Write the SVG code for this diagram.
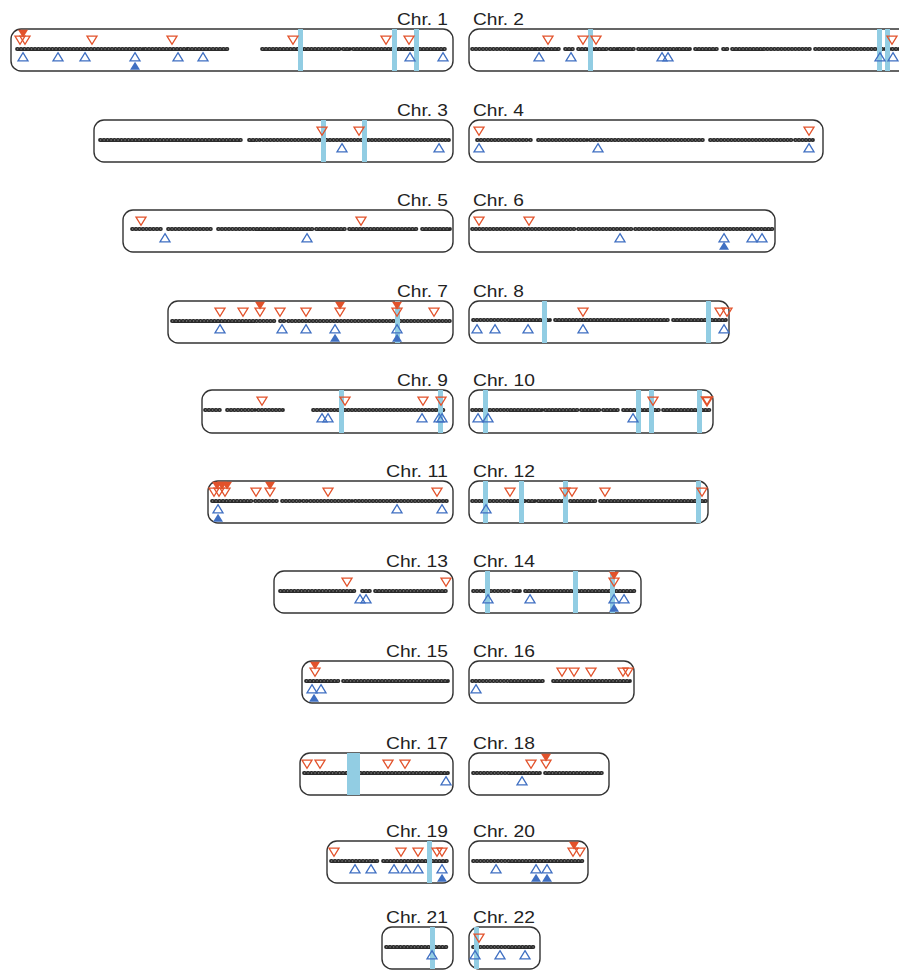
<svg xmlns="http://www.w3.org/2000/svg" xmlns:xlink="http://www.w3.org/1999/xlink" width="899" height="974" viewBox="0 0 899 974">
<style>
.box{fill:#fff;stroke:#333;stroke-width:1.4}
.band{fill:#92cde3}
.chr{stroke:#2b2b2b;stroke-width:3.8;stroke-dasharray:0.9 2.6;stroke-linecap:round;fill:none}
.chr2{stroke:#9a9a9a;stroke-width:1;stroke-dasharray:1.2 2.3;fill:none}
.ro{fill:none;stroke:#e2522b;stroke-width:1.3}
.rf{fill:#e2522b;stroke:none}
.bo{fill:none;stroke:#3f6fc2;stroke-width:1.3}
.bf{fill:#3f6fc2;stroke:none}
.lbl{font-family:"Liberation Sans",Arial,sans-serif;font-size:16.5px;fill:#222}
.l{text-anchor:end}
</style>
<defs>
<path id="dn" d="M-5 -3.8H5L0 4.3Z"/>
<path id="up" d="M0 -4.3L5 3.8H-5Z"/>
</defs>
<rect width="899" height="974" fill="#fff"/>

<g id="chr1">
<rect class="box" x="11" y="29" width="442" height="42" rx="10"/>
<path class="chr" d="M17 49H113M115 49H143M145 49H187M188 49H228M262 49H340M343 49H350M353 49H447"/>
<path class="chr2" d="M17 49H113M115 49H143M145 49H187M188 49H228M262 49H340M343 49H350M353 49H447"/>
<rect class="band" x="298" y="29" width="5" height="42"/><rect class="band" x="392" y="29" width="5" height="42"/><rect class="band" x="414" y="29" width="5" height="42"/>
<use href="#dn" x="23" y="33.5" class="rf"/><use href="#dn" x="20" y="40" class="ro"/><use href="#dn" x="25" y="40" class="ro"/>
<use href="#dn" x="92" y="40" class="ro"/><use href="#dn" x="172" y="40" class="ro"/><use href="#dn" x="293" y="40" class="ro"/><use href="#dn" x="386" y="40" class="ro"/><use href="#dn" x="409" y="40" class="ro"/>
<use href="#up" x="23" y="57" class="bo"/><use href="#up" x="58" y="57" class="bo"/><use href="#up" x="85" y="57" class="bo"/><use href="#up" x="135" y="57" class="bo"/><use href="#up" x="178" y="57" class="bo"/><use href="#up" x="203" y="57" class="bo"/><use href="#up" x="410" y="57" class="bo"/><use href="#up" x="443" y="57" class="bo"/>
<use href="#up" x="135" y="66" class="bf"/>
<text class="lbl l" x="448" y="25" textLength="51" lengthAdjust="spacingAndGlyphs">Chr. 1</text>
</g>

<g id="chr2">
<rect class="box" x="469" y="29" width="445" height="42" rx="10"/>
<path class="chr" d="M472 49H535M537 49H560M565 49H575M578 49H608M610 49H617M619 49H635M638 49H677M679 49H690M695 49H718M723 49H728M732 49H812M815 49H905"/>
<path class="chr2" d="M472 49H535M537 49H560M565 49H575M578 49H608M610 49H617M619 49H635M638 49H677M679 49H690M695 49H718M723 49H728M732 49H812M815 49H905"/>
<rect class="band" x="588" y="29" width="5" height="42"/><rect class="band" x="877" y="29" width="5" height="42"/><rect class="band" x="885" y="29" width="5" height="42"/>
<use href="#dn" x="548" y="40" class="ro"/><use href="#dn" x="583" y="40" class="ro"/><use href="#dn" x="596" y="40" class="ro"/><use href="#dn" x="892" y="40" class="ro"/>
<use href="#up" x="539" y="57" class="bo"/><use href="#up" x="571" y="57" class="bo"/><use href="#up" x="662" y="57" class="bo"/><use href="#up" x="668" y="57" class="bo"/><use href="#up" x="880" y="57" class="bo"/><use href="#up" x="893" y="57" class="bo"/>
<text class="lbl" x="473" y="25" textLength="51" lengthAdjust="spacingAndGlyphs">Chr. 2</text>
</g>

<g id="chr3">
<rect class="box" x="94" y="120" width="359" height="42" rx="10"/>
<path class="chr" d="M100 140H243M249 140H260M263 140H449"/>
<path class="chr2" d="M100 140H243M249 140H260M263 140H449"/>
<rect class="band" x="321" y="120" width="5" height="42"/><rect class="band" x="362" y="120" width="5" height="42"/>
<use href="#dn" x="322" y="131" class="ro"/><use href="#dn" x="359" y="131" class="ro"/>
<use href="#up" x="342" y="148" class="bo"/><use href="#up" x="439" y="148" class="bo"/>
<text class="lbl l" x="448" y="116" textLength="51" lengthAdjust="spacingAndGlyphs">Chr. 3</text>
</g>

<g id="chr4">
<rect class="box" x="469" y="120" width="354" height="42" rx="10"/>
<path class="chr" d="M477 140H527M530 140H531M538 140H587M590 140H705M710 140H793M795 140H813"/>
<path class="chr2" d="M477 140H527M530 140H531M538 140H587M590 140H705M710 140H793M795 140H813"/>
<use href="#dn" x="479" y="131" class="ro"/><use href="#dn" x="809" y="131" class="ro"/>
<use href="#up" x="479" y="148" class="bo"/><use href="#up" x="598" y="148" class="bo"/><use href="#up" x="809" y="148" class="bo"/>
<text class="lbl" x="473" y="116" textLength="51" lengthAdjust="spacingAndGlyphs">Chr. 4</text>
</g>

<g id="chr5">
<rect class="box" x="123" y="210" width="330" height="42" rx="10"/>
<path class="chr" d="M132 229H163M168 229H212M218 229H278M280 229H313M316 229H347M349 229H417M422 229H450"/>
<path class="chr2" d="M132 229H163M168 229H212M218 229H278M280 229H313M316 229H347M349 229H417M422 229H450"/>
<use href="#dn" x="141" y="221" class="ro"/><use href="#dn" x="361" y="221" class="ro"/>
<use href="#up" x="165" y="238" class="bo"/><use href="#up" x="307" y="238" class="bo"/>
<text class="lbl l" x="448" y="206" textLength="51" lengthAdjust="spacingAndGlyphs">Chr. 5</text>
</g>

<g id="chr6">
<rect class="box" x="469" y="210" width="306" height="42" rx="10"/>
<path class="chr" d="M472 229H575M578 229H590M592 229H633M635 229H650M653 229H717M719 229H773"/>
<path class="chr2" d="M472 229H575M578 229H590M592 229H633M635 229H650M653 229H717M719 229H773"/>
<use href="#dn" x="479" y="221" class="ro"/><use href="#dn" x="529" y="221" class="ro"/>
<use href="#up" x="620" y="238" class="bo"/><use href="#up" x="724" y="238" class="bo"/><use href="#up" x="752" y="238" class="bo"/><use href="#up" x="762" y="238" class="bo"/>
<use href="#up" x="724" y="246" class="bf"/>
<text class="lbl" x="473" y="206" textLength="51" lengthAdjust="spacingAndGlyphs">Chr. 6</text>
</g>

<g id="chr7">
<rect class="box" x="168" y="301" width="285" height="42" rx="10"/>
<path class="chr" d="M172 321H240M242 321H275M280 321H285M288 321H450"/>
<path class="chr2" d="M172 321H240M242 321H275M280 321H285M288 321H450"/>
<rect class="band" x="395" y="301" width="5" height="42"/>
<use href="#dn" x="260" y="305.5" class="rf"/><use href="#dn" x="340" y="305.5" class="rf"/><use href="#dn" x="397" y="305.5" class="rf"/>
<use href="#dn" x="220" y="312" class="ro"/><use href="#dn" x="243" y="312" class="ro"/><use href="#dn" x="260" y="312" class="ro"/><use href="#dn" x="280" y="312" class="ro"/><use href="#dn" x="306" y="312" class="ro"/><use href="#dn" x="340" y="312" class="ro"/><use href="#dn" x="397" y="312" class="ro"/><use href="#dn" x="434" y="312" class="ro"/>
<use href="#up" x="220" y="329" class="bo"/><use href="#up" x="282" y="329" class="bo"/><use href="#up" x="306" y="329" class="bo"/><use href="#up" x="335" y="329" class="bo"/><use href="#up" x="397" y="329" class="bo"/>
<use href="#up" x="335" y="338" class="bf"/><use href="#up" x="397" y="338" class="bf"/>
<text class="lbl l" x="448" y="297" textLength="51" lengthAdjust="spacingAndGlyphs">Chr. 7</text>
</g>

<g id="chr8">
<rect class="box" x="469" y="301" width="260" height="42" rx="10"/>
<path class="chr" d="M473 320H550M555 320H670M673 320H726"/>
<path class="chr2" d="M473 320H550M555 320H670M673 320H726"/>
<rect class="band" x="542" y="301" width="5" height="42"/><rect class="band" x="706" y="301" width="5" height="42"/>
<use href="#dn" x="583" y="312" class="ro"/><use href="#dn" x="720" y="312" class="ro"/><use href="#dn" x="727" y="312" class="ro"/>
<use href="#up" x="477" y="329" class="bo"/><use href="#up" x="495" y="329" class="bo"/><use href="#up" x="528" y="329" class="bo"/><use href="#up" x="583" y="329" class="bo"/><use href="#up" x="724" y="329" class="bo"/>
<text class="lbl" x="473" y="297" textLength="51" lengthAdjust="spacingAndGlyphs">Chr. 8</text>
</g>

<g id="chr9">
<rect class="box" x="202" y="390" width="251" height="43" rx="10"/>
<path class="chr" d="M205 410H222M227 410H255M258 410H283M313 410H445"/>
<path class="chr2" d="M205 410H222M227 410H255M258 410H283M313 410H445"/>
<rect class="band" x="339" y="390" width="5" height="43"/><rect class="band" x="438" y="390" width="5" height="43"/>
<use href="#dn" x="262" y="401" class="ro"/><use href="#dn" x="345" y="401" class="ro"/><use href="#dn" x="423" y="401" class="ro"/><use href="#dn" x="441" y="401" class="ro"/>
<use href="#up" x="322" y="418" class="bo"/><use href="#up" x="328" y="418" class="bo"/><use href="#up" x="422" y="418" class="bo"/><use href="#up" x="439" y="418" class="bo"/><use href="#up" x="442" y="418" class="bo"/>
<text class="lbl l" x="448" y="386" textLength="51" lengthAdjust="spacingAndGlyphs">Chr. 9</text>
</g>

<g id="chr10">
<rect class="box" x="469" y="390" width="244" height="43" rx="10"/>
<path class="chr" d="M472 410H542M545 410H578M581 410H600M603 410H620M623 410H660M663 410H710"/>
<path class="chr2" d="M472 410H542M545 410H578M581 410H600M603 410H620M623 410H660M663 410H710"/>
<rect class="band" x="483" y="390" width="5" height="43"/><rect class="band" x="636" y="390" width="5" height="43"/><rect class="band" x="649" y="390" width="5" height="43"/><rect class="band" x="697" y="390" width="5" height="43"/>
<use href="#dn" x="653" y="401" class="ro"/><use href="#dn" x="707" y="401" class="ro" style="stroke-width:2"/>
<use href="#up" x="478" y="418" class="bo"/><use href="#up" x="488" y="418" class="bo"/><use href="#up" x="633" y="418" class="bo"/>
<text class="lbl" x="473" y="386" textLength="62" lengthAdjust="spacingAndGlyphs">Chr. 10</text>
</g>

<g id="chr11">
<rect class="box" x="208" y="481" width="245" height="42" rx="10"/>
<path class="chr" d="M212 501H252M255 501H278M282 501H300M303 501H307M310 501H352M355 501H447"/>
<path class="chr2" d="M212 501H252M255 501H278M282 501H300M303 501H307M310 501H352M355 501H447"/>
<use href="#dn" x="217" y="485.5" class="rf"/><use href="#dn" x="222" y="485.5" class="rf"/><use href="#dn" x="227" y="485.5" class="rf"/><use href="#dn" x="270" y="485.5" class="rf"/>
<use href="#dn" x="214" y="492" class="ro"/><use href="#dn" x="219" y="492" class="ro"/><use href="#dn" x="225" y="492" class="ro"/><use href="#dn" x="256" y="492" class="ro"/><use href="#dn" x="270" y="492" class="ro"/><use href="#dn" x="328" y="492" class="ro"/><use href="#dn" x="437" y="492" class="ro"/>
<use href="#up" x="218" y="509" class="bo"/><use href="#up" x="397" y="509" class="bo"/><use href="#up" x="442" y="509" class="bo"/>
<use href="#up" x="218" y="518" class="bf"/>
<text class="lbl l" x="448" y="477" textLength="62" lengthAdjust="spacingAndGlyphs">Chr. 11</text>
</g>

<g id="chr12">
<rect class="box" x="469" y="481" width="239" height="42" rx="10"/>
<path class="chr" d="M472 501H525M528 501H535M538 501H565M570 501H597M600 501H707"/>
<path class="chr2" d="M472 501H525M528 501H535M538 501H565M570 501H597M600 501H707"/>
<rect class="band" x="483" y="481" width="5" height="42"/><rect class="band" x="519" y="481" width="5" height="42"/><rect class="band" x="563" y="481" width="5" height="42"/><rect class="band" x="696" y="481" width="5" height="42"/>
<use href="#dn" x="510" y="492" class="ro"/><use href="#dn" x="565" y="492" class="ro"/><use href="#dn" x="572" y="492" class="ro"/><use href="#dn" x="605" y="492" class="ro"/><use href="#dn" x="702" y="492" class="ro"/>
<use href="#up" x="486" y="509" class="bo"/>
<text class="lbl" x="473" y="477" textLength="62" lengthAdjust="spacingAndGlyphs">Chr. 12</text>
</g>

<g id="chr13">
<rect class="box" x="274" y="571" width="179" height="42" rx="10"/>
<path class="chr" d="M280 591H355M362 591H372M375 591H448"/>
<path class="chr2" d="M280 591H355M362 591H372M375 591H448"/>
<use href="#dn" x="347" y="582" class="ro"/><use href="#dn" x="446" y="582" class="ro"/>
<use href="#up" x="360" y="599" class="bo"/><use href="#up" x="366" y="599" class="bo"/>
<text class="lbl l" x="448" y="567" textLength="62" lengthAdjust="spacingAndGlyphs">Chr. 13</text>
</g>

<g id="chr14">
<rect class="box" x="469" y="571" width="172" height="42" rx="10"/>
<path class="chr" d="M473 591H510M513 591H520M525 591H636"/>
<path class="chr2" d="M473 591H510M513 591H520M525 591H636"/>
<rect class="band" x="485" y="571" width="5" height="42"/><rect class="band" x="573" y="571" width="5" height="42"/><rect class="band" x="610" y="571" width="5" height="42"/>
<use href="#dn" x="614" y="575.5" class="rf"/><use href="#dn" x="614" y="582" class="ro"/>
<use href="#up" x="488" y="599" class="bo"/><use href="#up" x="530" y="599" class="bo"/><use href="#up" x="614" y="599" class="bo"/><use href="#up" x="624" y="599" class="bo"/>
<use href="#up" x="614" y="608" class="bf"/>
<text class="lbl" x="473" y="567" textLength="62" lengthAdjust="spacingAndGlyphs">Chr. 14</text>
</g>

<g id="chr15">
<rect class="box" x="302" y="661" width="151" height="42" rx="10"/>
<path class="chr" d="M306 681H340M343 681H448"/>
<path class="chr2" d="M306 681H340M343 681H448"/>
<use href="#dn" x="315" y="665.5" class="rf"/><use href="#dn" x="315" y="672" class="ro"/>
<use href="#up" x="312" y="689" class="bo"/><use href="#up" x="321" y="689" class="bo"/>
<use href="#up" x="314" y="698" class="bf"/>
<text class="lbl l" x="448" y="657" textLength="62" lengthAdjust="spacingAndGlyphs">Chr. 15</text>
</g>

<g id="chr16">
<rect class="box" x="469" y="661" width="165" height="42" rx="10"/>
<path class="chr" d="M472 681H543M553 681H630"/>
<path class="chr2" d="M472 681H543M553 681H630"/>
<use href="#dn" x="562" y="672" class="ro"/><use href="#dn" x="574" y="672" class="ro"/><use href="#dn" x="591" y="672" class="ro"/><use href="#dn" x="623" y="672" class="ro"/><use href="#dn" x="628" y="672" class="ro"/>
<use href="#up" x="476" y="689" class="bo"/>
<text class="lbl" x="473" y="657" textLength="62" lengthAdjust="spacingAndGlyphs">Chr. 16</text>
</g>

<g id="chr17">
<rect class="box" x="300" y="753" width="153" height="42" rx="10"/>
<path class="chr" d="M304 773H448"/>
<path class="chr2" d="M304 773H448"/>
<rect class="band" x="347" y="753" width="13" height="42"/>
<use href="#dn" x="307" y="764" class="ro"/><use href="#dn" x="320" y="764" class="ro"/><use href="#dn" x="388" y="764" class="ro"/><use href="#dn" x="405" y="764" class="ro"/>
<use href="#up" x="446" y="781" class="bo"/>
<text class="lbl l" x="448" y="749" textLength="62" lengthAdjust="spacingAndGlyphs">Chr. 17</text>
</g>

<g id="chr18">
<rect class="box" x="469" y="753" width="140" height="42" rx="10"/>
<path class="chr" d="M473 773H540M545 773H604"/>
<path class="chr2" d="M473 773H540M545 773H604"/>
<use href="#dn" x="546" y="757.5" class="rf"/><use href="#dn" x="546" y="764" class="ro"/><use href="#dn" x="531" y="764" class="ro"/>
<use href="#up" x="522" y="781" class="bo"/>
<text class="lbl" x="473" y="749" textLength="62" lengthAdjust="spacingAndGlyphs">Chr. 18</text>
</g>

<g id="chr19">
<rect class="box" x="327" y="841" width="126" height="42" rx="10"/>
<path class="chr" d="M331 861H378M383 861H448"/>
<path class="chr2" d="M331 861H378M383 861H448"/>
<rect class="band" x="427" y="841" width="5" height="42"/>
<use href="#dn" x="334" y="852" class="ro"/><use href="#dn" x="401" y="852" class="ro"/><use href="#dn" x="418" y="852" class="ro"/><use href="#dn" x="437" y="852" class="ro"/><use href="#dn" x="442" y="852" class="ro"/>
<use href="#up" x="355" y="869" class="bo"/><use href="#up" x="371" y="869" class="bo"/><use href="#up" x="394" y="869" class="bo"/><use href="#up" x="406" y="869" class="bo"/><use href="#up" x="418" y="869" class="bo"/><use href="#up" x="442" y="869" class="bo"/>
<use href="#up" x="442" y="878" class="bf"/>
<text class="lbl l" x="448" y="837" textLength="62" lengthAdjust="spacingAndGlyphs">Chr. 19</text>
</g>

<g id="chr20">
<rect class="box" x="469" y="841" width="119" height="42" rx="10"/>
<path class="chr" d="M473 861H583"/>
<path class="chr2" d="M473 861H583"/>
<use href="#dn" x="574" y="845.5" class="rf"/><use href="#dn" x="573" y="852" class="ro"/><use href="#dn" x="580" y="852" class="ro"/>
<use href="#up" x="496" y="869" class="bo"/><use href="#up" x="536" y="869" class="bo"/><use href="#up" x="547" y="869" class="bo"/>
<use href="#up" x="536" y="878" class="bf"/><use href="#up" x="547" y="878" class="bf"/>
<text class="lbl" x="473" y="837" textLength="62" lengthAdjust="spacingAndGlyphs">Chr. 20</text>
</g>

<g id="chr21">
<rect class="box" x="382" y="927" width="71" height="42" rx="10"/>
<path class="chr" d="M386 947H448"/>
<path class="chr2" d="M386 947H448"/>
<rect class="band" x="430" y="927" width="5" height="42"/>
<use href="#up" x="432" y="955" class="bo"/>
<text class="lbl l" x="448" y="923" textLength="62" lengthAdjust="spacingAndGlyphs">Chr. 21</text>
</g>

<g id="chr22">
<rect class="box" x="469" y="927" width="71" height="42" rx="10"/>
<path class="chr" d="M473 947H535"/>
<path class="chr2" d="M473 947H535"/>
<rect class="band" x="474" y="927" width="5" height="42"/>
<use href="#dn" x="479" y="938" class="ro"/>
<use href="#up" x="475" y="955" class="bo"/><use href="#up" x="500" y="955" class="bo"/><use href="#up" x="525" y="955" class="bo"/>
<text class="lbl" x="473" y="923" textLength="62" lengthAdjust="spacingAndGlyphs">Chr. 22</text>
</g>
</svg>
